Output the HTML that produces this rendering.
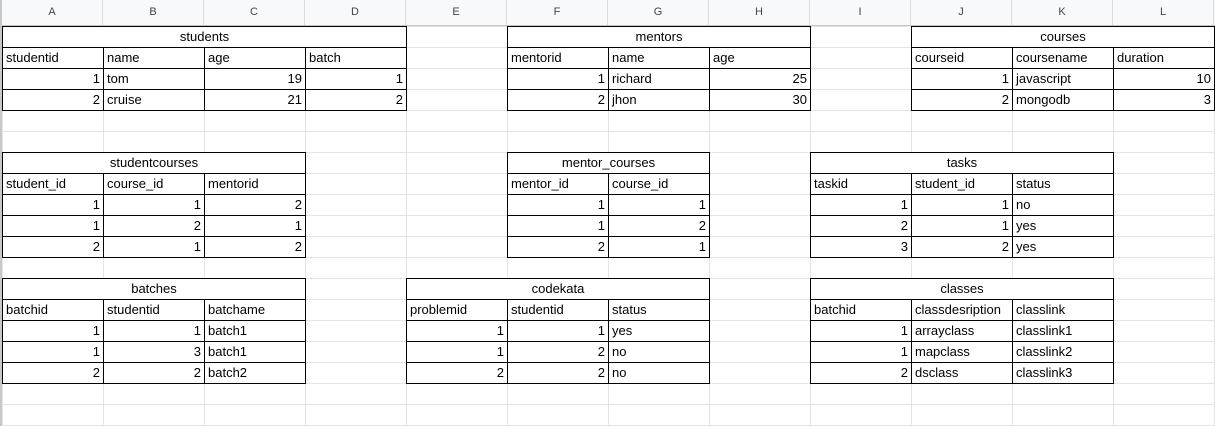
<!DOCTYPE html>
<html><head><meta charset="utf-8"><style>
body{margin:0;width:1215px;height:426px;overflow:hidden;background:#fff;font-family:"Liberation Sans",Arial,sans-serif;position:relative}
.grid{position:absolute;left:0;top:26px;width:1215px;height:400px;
background-image:linear-gradient(to right,#e2e3e3 1px,transparent 1px),linear-gradient(to bottom,#e2e3e3 1px,transparent 1px);
background-size:101px 21px;background-position:2px 0,0 0}
.hdr{position:absolute;left:0;top:0;width:1215px;height:26px;background:#f8f9fa;border-bottom:1px solid #c4c7c5;box-sizing:border-box}
.hdr div{position:absolute;top:0;height:25px;width:101px;line-height:25px;text-align:center;font-size:11px;color:#444;border-right:1px solid #dadada;box-sizing:border-box}
.gut{position:absolute;left:0;top:0;width:2px;height:426px;background:#c8c8c8}
.t{position:absolute;display:grid;border-top:1px solid #000;border-left:1px solid #000;box-sizing:border-box}
.t div{box-sizing:border-box;height:21px;border-right:1px solid #000;border-bottom:1px solid #000;font-size:13px;line-height:20px;padding:0 3px;white-space:nowrap;overflow:hidden;color:#000;background:#fff}
.t .ti{grid-column:1/-1;text-align:center}
.t .r{text-align:right}
</style></head><body>
<div class="grid"></div>
<div class="hdr">
<div style="left:2px">A</div><div style="left:103px">B</div><div style="left:204px">C</div><div style="left:305px">D</div><div style="left:406px">E</div><div style="left:507px">F</div><div style="left:608px">G</div><div style="left:709px">H</div><div style="left:810px">I</div><div style="left:911px">J</div><div style="left:1012px">K</div><div style="left:1113px">L</div>
</div>
<div class="gut"></div>

<div class="t" style="left:2px;top:26px;grid-template-columns:repeat(4,101px)">
<div class="ti">students</div>
<div>studentid</div><div>name</div><div>age</div><div>batch</div>
<div class="r">1</div><div>tom</div><div class="r">19</div><div class="r">1</div>
<div class="r">2</div><div>cruise</div><div class="r">21</div><div class="r">2</div>
</div>

<div class="t" style="left:507px;top:26px;grid-template-columns:repeat(3,101px)">
<div class="ti">mentors</div>
<div>mentorid</div><div>name</div><div>age</div>
<div class="r">1</div><div>richard</div><div class="r">25</div>
<div class="r">2</div><div>jhon</div><div class="r">30</div>
</div>

<div class="t" style="left:911px;top:26px;grid-template-columns:repeat(3,101px)">
<div class="ti">courses</div>
<div>courseid</div><div>coursename</div><div>duration</div>
<div class="r">1</div><div>javascript</div><div class="r">10</div>
<div class="r">2</div><div>mongodb</div><div class="r">3</div>
</div>

<div class="t" style="left:2px;top:152px;grid-template-columns:repeat(3,101px)">
<div class="ti">studentcourses</div>
<div>student_id</div><div>course_id</div><div>mentorid</div>
<div class="r">1</div><div class="r">1</div><div class="r">2</div>
<div class="r">1</div><div class="r">2</div><div class="r">1</div>
<div class="r">2</div><div class="r">1</div><div class="r">2</div>
</div>

<div class="t" style="left:507px;top:152px;grid-template-columns:repeat(2,101px)">
<div class="ti">mentor_courses</div>
<div>mentor_id</div><div>course_id</div>
<div class="r">1</div><div class="r">1</div>
<div class="r">1</div><div class="r">2</div>
<div class="r">2</div><div class="r">1</div>
</div>

<div class="t" style="left:810px;top:152px;grid-template-columns:repeat(3,101px)">
<div class="ti">tasks</div>
<div>taskid</div><div>student_id</div><div>status</div>
<div class="r">1</div><div class="r">1</div><div>no</div>
<div class="r">2</div><div class="r">1</div><div>yes</div>
<div class="r">3</div><div class="r">2</div><div>yes</div>
</div>

<div class="t" style="left:2px;top:278px;grid-template-columns:repeat(3,101px)">
<div class="ti">batches</div>
<div>batchid</div><div>studentid</div><div>batchame</div>
<div class="r">1</div><div class="r">1</div><div>batch1</div>
<div class="r">1</div><div class="r">3</div><div>batch1</div>
<div class="r">2</div><div class="r">2</div><div>batch2</div>
</div>

<div class="t" style="left:406px;top:278px;grid-template-columns:repeat(3,101px)">
<div class="ti">codekata</div>
<div>problemid</div><div>studentid</div><div>status</div>
<div class="r">1</div><div class="r">1</div><div>yes</div>
<div class="r">1</div><div class="r">2</div><div>no</div>
<div class="r">2</div><div class="r">2</div><div>no</div>
</div>

<div class="t" style="left:810px;top:278px;grid-template-columns:repeat(3,101px)">
<div class="ti">classes</div>
<div>batchid</div><div>classdesription</div><div>classlink</div>
<div class="r">1</div><div>arrayclass</div><div>classlink1</div>
<div class="r">1</div><div>mapclass</div><div>classlink2</div>
<div class="r">2</div><div>dsclass</div><div>classlink3</div>
</div>
</body></html>
